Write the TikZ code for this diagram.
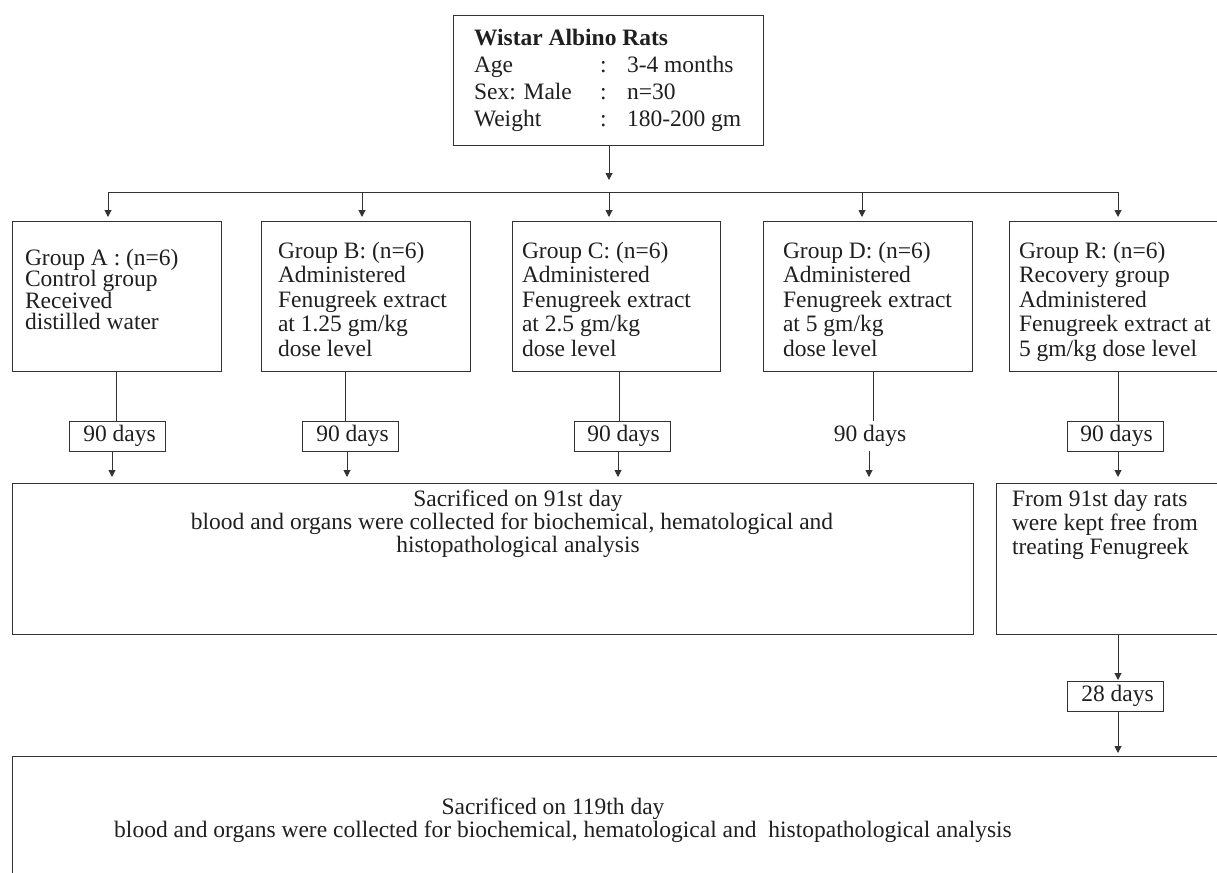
\documentclass[tikz,border=0pt]{standalone}
\usepackage{fontspec}
\setmainfont{Liberation Serif}
\usetikzlibrary{arrows.meta}
\newcommand{\tlines}[2]{\vtop{\baselineskip=#1\lineskiplimit=-50pt\lineskip=0pt\relax\halign{##\hfil\cr#2\crcr}}}
\newcommand{\clines}[2]{\vtop{\baselineskip=#1\lineskiplimit=-50pt\lineskip=0pt\relax\halign{\hfil##\hfil\cr#2\crcr}}}
\begin{document}
\begin{tikzpicture}[x=1pt,y=-1pt,
  every node/.style={font=\fontsize{23.5}{24}\selectfont, text=black!88, inner sep=0pt, outer sep=0pt},
  box/.style={draw=black!80, line width=1pt, rectangle, inner sep=0pt, anchor=north west},
  daybox/.style={box, minimum width=96pt, minimum height=30pt},
  grp/.style={box, minimum height=150pt},
  txt/.style={anchor=base west},
  ctxt/.style={anchor=base},
  conn/.style={draw=black!80, line width=1pt},
  arr/.style={conn, -{Triangle[length=7pt,width=7pt]}}
]
\useasboundingbox (0,0) rectangle (1217,872);
\clip (0,0) rectangle (1217,872);

% top box
\node[box, minimum width=310pt, minimum height=129pt] (T) at (453,16) {};
\node[txt] (tT) at (474,46) {\tlines{26.7pt}{\textbf{Wistar Albino Rats}\cr
  \makebox[126pt][l]{Age}\makebox[27pt][l]{:}3-4 months\cr
  \makebox[126pt][l]{Sex: Male}\makebox[27pt][l]{:}n=30\cr
  \makebox[126pt][l]{Weight}\makebox[27pt][l]{:}180-200 gm}};

\coordinate (hub) at (609,180);
\coordinate (hL) at (108,192);
\coordinate (hR) at (1118,192);

% group boxes
\node[grp, minimum width=209pt] (A) at (12,221) {};
\node[grp, minimum width=209pt] (B) at (261,221) {};
\node[grp, minimum width=208pt] (C) at (512,221) {};
\node[grp, minimum width=209pt] (D) at (763,221) {};
\node[grp, minimum width=240pt] (R) at (1009,221) {};

\node[txt] (tA) at (25,265) {\tlines{21.5pt}{Group A : (n=6)\cr Control group\cr Received\cr distilled water}};
\node[txt] (tB) at (278,258) {\tlines{24.5pt}{Group B: (n=6)\cr Administered\cr Fenugreek extract\cr at 1.25 gm/kg\cr dose level}};
\node[txt] (tC) at (522,258) {\tlines{24.5pt}{Group C: (n=6)\cr Administered\cr Fenugreek extract\cr at 2.5 gm/kg\cr dose level}};
\node[txt] (tD) at (783,258) {\tlines{24.5pt}{Group D: (n=6)\cr Administered\cr Fenugreek extract\cr at 5 gm/kg\cr dose level}};
\node[txt] (tR) at (1019,258) {\tlines{24.5pt}{Group R: (n=6)\cr Recovery group\cr Administered\cr Fenugreek extract at\cr 5 gm/kg dose level}};

% 90 days
\node[daybox] (dA) at (69,421) {\hspace{5pt}90 days};
\node[daybox] (dB) at (302,421) {\hspace{5pt}90 days};
\node[daybox] (dC) at (574,421) {\hspace{3pt}90 days};
\node (dD) at (870,436) {90 days};
\node[daybox] (dR) at (1067,421) {\hspace{3pt}90 days};

% result boxes
\node[box, minimum width=961pt, minimum height=151pt] (S1) at (12,483) {};
\node[ctxt] (tS1) at (512,506) {\clines{23pt}{\hspace{12pt}Sacrificed on 91st day\cr
  blood and organs were collected for biochemical, hematological and\cr
  \hspace{12pt}histopathological analysis}};
\node[box, minimum width=250pt, minimum height=151pt] (R2) at (996,483) {};
\node[txt] (tR2) at (1012,506) {\tlines{24pt}{From 91st day rats\cr were kept free from\cr treating Fenugreek}};

\node[daybox] (d28) at (1067,681) {\hspace{5pt}28 days};

\node[box, minimum width=1240pt, minimum height=140pt] (S2) at (12,756) {};
\node[ctxt] (tS2) at (563,814) {\clines{23pt}{Sacrificed on 119th day\hspace{20pt}\cr
  blood and organs were collected for biochemical, hematological and\ \ histopathological analysis}};

% connectors
\draw[arr] (T.south -| hub) -- (hub);
\draw[conn] (hL) -- (hR);
\draw[arr, shorten >=4pt] (hL) -- (hL |- A.north);
\draw[arr, shorten >=4pt] (362,0 |- hL) -- (362,0 |- B.north);
\draw[arr, shorten >=4pt] (609,0 |- hL) -- (609,0 |- C.north);
\draw[arr, shorten >=4pt] (862,0 |- hL) -- (862,0 |- D.north);
\draw[arr, shorten >=4pt] (hR) -- (hR |- R.north);

\draw[conn] (116,0 |- A.south) -- (116,0 |- dA.north);
\draw[conn] (345,0 |- B.south) -- (345,0 |- dB.north);
\draw[conn] (619,0 |- C.south) -- (619,0 |- dC.north);
\draw[conn] (873,0 |- D.south) -- (873,421);
\draw[conn] (1118,0 |- R.south) -- (1118,0 |- dR.north);

\draw[arr, shorten >=6pt] (112,0 |- dA.south) -- (112,0 |- S1.north);
\draw[arr, shorten >=6pt] (347,0 |- dB.south) -- (347,0 |- S1.north);
\draw[arr, shorten >=6pt] (618,0 |- dC.south) -- (618,0 |- S1.north);
\draw[arr, shorten >=6pt] (869,451) -- (869,0 |- S1.north);
\draw[arr, shorten >=6pt] (1118,0 |- dR.south) -- (1118,0 |- R2.north);

\draw[arr, shorten >=1pt] (1118,0 |- R2.south) -- (1118,0 |- d28.north);
\draw[arr, shorten >=3pt] (1118,0 |- d28.south) -- (1118,0 |- S2.north);
\end{tikzpicture}
\end{document}
